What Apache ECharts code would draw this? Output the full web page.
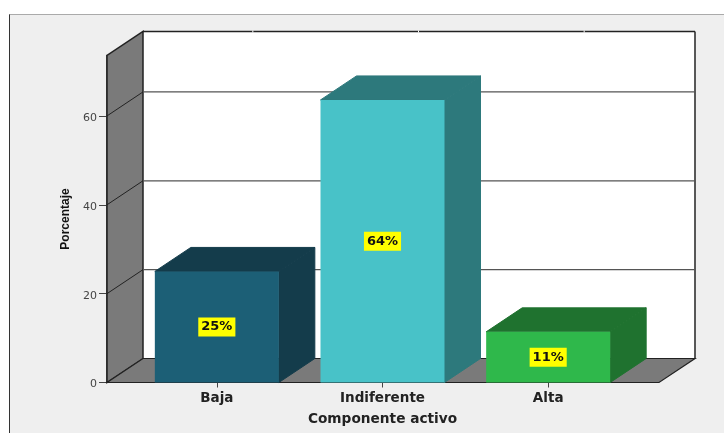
<!DOCTYPE html>
<html>
<head>
<meta charset="utf-8">
<title>Componente activo</title>
<script src="https://cdn.jsdelivr.net/npm/echarts@6/dist/echarts.min.js"></script>
<style>
html, body { margin: 0; padding: 0; background: #fff; }
.panel {
  position: absolute;
  left: 9px;
  top: 14px;
  width: 715px;
  height: 419px;
  box-sizing: border-box;
  background: #efefef;
  border-left: 1px solid #333;
  border-top: 1px solid #aaa;
}
#chart { position: absolute; left: 0; top: 0; width: 724px; height: 433px; }
</style>
</head>
<body>
<div class="panel"></div>
<div id="chart"></div>
<script>
const categories = ['Baja', 'Indiferente', 'Alta']
const values = [25, 63.6, 11.4]
const valueLabels = ['25%', '64%', '11%']
const yTicks = [0, 20, 40, 60]
const yMax = 73.6

const frontColors = ['#1c5f76', '#48c2c8', '#2fb84b']
const darkColors = ['#143c4b', '#2d797c', '#1f722f']
const wallColor = '#7a7a7a'
const lineColor = '#222'
const gridColor = '#555'

// depth of the fake 3d box, in pixels
const depthX = 36
const depthY = -24
const wallPad = 27
const barWidth = 124

function poly(points, fill, stroke, width) {
  return {
    type: 'polygon',
    shape: { points },
    style: { fill, stroke: stroke || fill, lineWidth: width || 1 },
  }
}

function line(x1, y1, x2, y2, stroke, width) {
  return {
    type: 'line',
    shape: { x1, y1, x2, y2 },
    style: { stroke, lineWidth: width || 1 },
  }
}

function renderWalls(params, api) {
  const cs = params.coordSys
  const left = cs.x - wallPad
  const right = cs.x + cs.width + wallPad + 1
  const bottom = api.coord([0, 0])[1]
  const top = api.coord([0, yMax])[1]
  const children = [
    poly([[left + depthX, top + depthY], [right + depthX, top + depthY], [right + depthX, bottom + depthY], [left + depthX, bottom + depthY]], '#fff', '#fff'),
    poly([[left, bottom], [left + depthX, bottom + depthY], [left + depthX, top + depthY], [left, top]], wallColor, lineColor, 1.5),
    poly([[left, bottom], [right, bottom], [right + depthX, bottom + depthY], [left + depthX, bottom + depthY]], wallColor, lineColor, 1.2),
    line(left + depthX, top + depthY, right + depthX, top + depthY, lineColor, 1.5),
    line(right + depthX, top + depthY, right + depthX, bottom + depthY, lineColor, 1.5),
  ]
  yTicks.slice(1).forEach((t) => {
    const y = api.coord([0, t])[1]
    children.push(line(left, y, left + depthX, y + depthY, lineColor))
    children.push(line(left + depthX, y + depthY, right + depthX, y + depthY, gridColor, 1.3))
  })
  // small white marks on the top edge above each category
  categories.forEach((c, i) => {
    const x = api.coord([i, 0])[0] + depthX
    children.push(line(x, top + depthY - 1, x, top + depthY + 1, '#fff'))
  })
  return { type: 'group', children }
}

function renderBox(params, api) {
  const i = api.value(0)
  const [cx, yTop] = api.coord([i, api.value(1)])
  const yBase = api.coord([i, 0])[1]
  const l = cx - barWidth / 2
  const r = cx + barWidth / 2
  const dark = darkColors[i]
  return {
    type: 'group',
    children: [
      poly([[l, yTop], [r, yTop], [r + depthX, yTop + depthY], [l + depthX, yTop + depthY]], dark),
      poly([[r, yTop], [r + depthX, yTop + depthY], [r + depthX, yBase + depthY], [r, yBase]], dark),
    ],
  }
}

const chart = echarts.init(document.getElementById('chart'))
chart.setOption({
  animation: false,
  backgroundColor: 'transparent',
  grid: { left: 134, width: 497, top: 55.5, height: 327 },
  xAxis: {
    type: 'category',
    data: categories,
    name: 'Componente activo',
    nameLocation: 'middle',
    nameGap: 30,
    nameTextStyle: { fontFamily: 'DejaVu Sans', fontWeight: 'bold', fontSize: 13.7, color: '#222' },
    axisLine: { show: false },
    axisTick: { show: true, alignWithLabel: true, length: 5, lineStyle: { color: '#444' } },
    axisLabel: { fontFamily: 'DejaVu Sans', fontWeight: 'bold', fontSize: 13.5, color: '#222', margin: 9 },
    splitLine: { show: false },
  },
  yAxis: {
    type: 'value',
    min: 0,
    max: yMax,
    interval: 20,
    offset: wallPad,
    name: 'Porcentaje',
    nameLocation: 'middle',
    nameGap: 34,
    nameTextStyle: { fontFamily: 'Liberation Sans', fontWeight: 'bold', fontSize: 12, color: '#111' },
    axisLine: { show: true, lineStyle: { color: lineColor, width: 1.5 } },
    axisTick: { show: true, length: 8, customValues: yTicks, lineStyle: { color: '#444' } },
    axisLabel: { customValues: yTicks, fontFamily: 'DejaVu Sans', fontSize: 11, color: '#444', margin: 10, verticalAlign: 'top', lineHeight: 4 },
    splitLine: { show: false },
  },
  series: [
    {
      type: 'custom',
      z: 1,
      silent: true,
      renderItem: renderWalls,
      data: [[0, 0]],
    },
    {
      type: 'custom',
      z: 2,
      silent: true,
      renderItem: renderBox,
      data: values.map((v, i) => [i, v]),
    },
    {
      type: 'bar',
      z: 3,
      barWidth,
      data: values.map((v, i) => ({ value: v, itemStyle: { color: frontColors[i] } })),
      label: {
        show: true,
        position: 'inside',
        formatter: (p) => valueLabels[p.dataIndex],
        fontFamily: 'DejaVu Sans',
        fontWeight: 'bold',
        fontSize: 13,
        color: '#111',
        backgroundColor: '#ffff00',
        padding: [3, 3, 3, 3],
      },
    },
  ],
})
</script>
</body>
</html>
